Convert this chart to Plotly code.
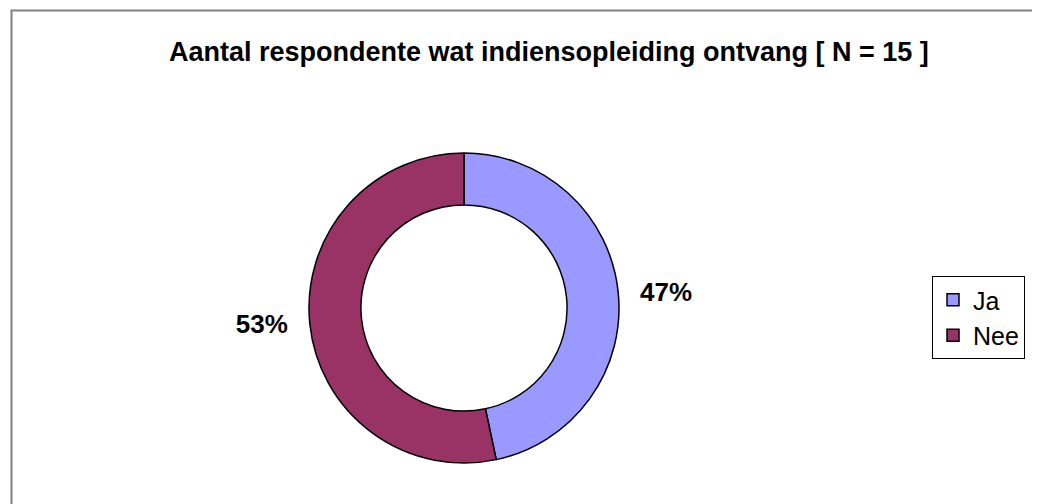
import plotly.graph_objects as go

# data
labels = ['Ja', 'Nee']
counts = [7, 8]
colors = ['#9999FF', '#993366']
title = 'Aantal respondente wat indiensopleiding ontvang [ N = 15 ]'

W, H = 1040, 504
# page body margin shifts the figure by 8px; positions below are screen px minus that
OFF = 8


def px_x(x):
    return (x - OFF) / W


def px_y(y):
    return 1 - (y - OFF) / H


fig = go.Figure()
fig.add_trace(go.Pie(
    labels=labels,
    values=counts,
    sort=False,
    direction='clockwise',
    rotation=0,
    hole=0.665,
    marker=dict(colors=colors, line=dict(color='black', width=1.5)),
    texttemplate=['\u00a0\u00a0<b>%{percent:.0%}</b>', '<b>%{percent:.0%}</b>\u00a0\u00a0'],
    textposition='outside',
    textfont=dict(family='Liberation Sans, Arial', size=26, color='black'),
    domain=dict(x=[px_x(464 - 155), px_x(464 + 155)], y=[px_y(463), px_y(153)]),
))

# outer chart frame
fig.add_shape(type='rect', xref='paper', yref='paper',
              x0=px_x(11.5), x1=1.05, y0=-0.05, y1=px_y(10.5),
              line=dict(color='#808080', width=2), fillcolor='rgba(0,0,0,0)')

fig.add_annotation(text='<b>' + title + '</b>', xref='paper', yref='paper',
                   x=px_x(549), y=px_y(52), xanchor='center', yanchor='middle',
                   showarrow=False,
                   font=dict(family='Liberation Sans, Arial', size=27, color='black'))

fig.update_layout(
    width=W, height=H,
    margin=dict(l=0, r=0, t=0, b=0, autoexpand=False),
    paper_bgcolor='white',
    plot_bgcolor='white',
    showlegend=True,
    legend=dict(x=px_x(932), y=px_y(276), xanchor='left', yanchor='top',
                bordercolor='black', borderwidth=1, bgcolor='white',
                itemwidth=30,
                font=dict(family='Liberation Sans, Arial', size=25, color='black')),
)

fig.write_html('out.html')
